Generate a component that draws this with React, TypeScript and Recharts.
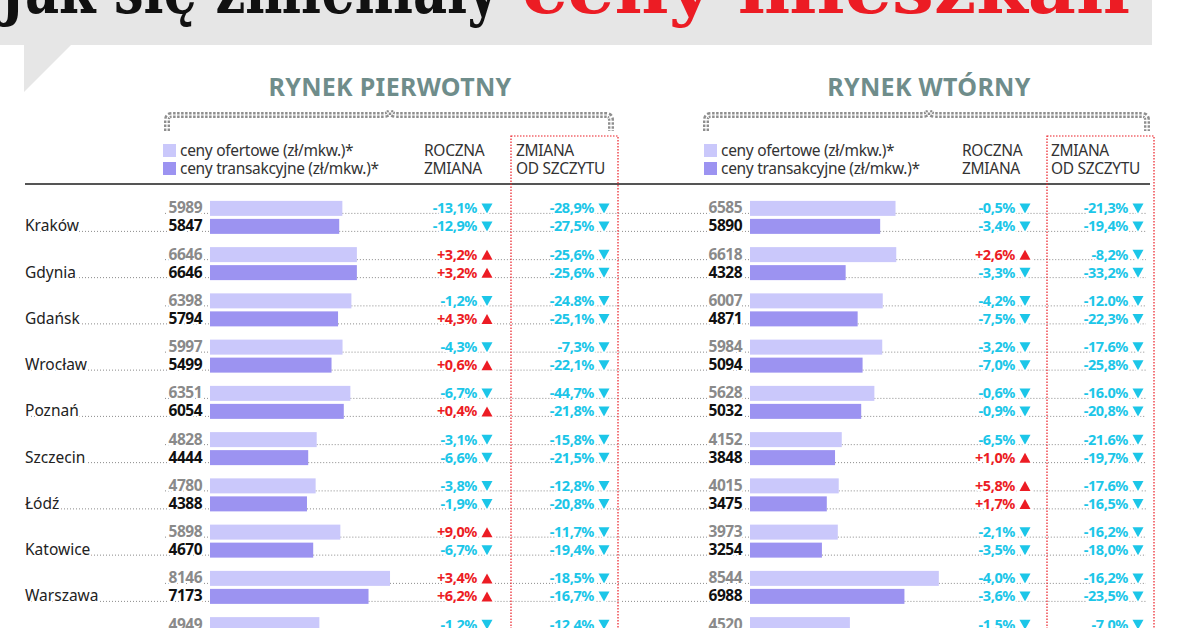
import { BarChart, Bar, XAxis, YAxis } from "recharts";

// rows top to bottom; the last row is cut by the bottom edge of the picture
const cities = ["Kraków", "Gdynia", "Gdańsk", "Wrocław", "Poznań", "Szczecin", "Łódź", "Katowice", "Warszawa", ""];

// rynek pierwotny
const pOffer = [5989, 6646, 6398, 5997, 6351, 4828, 4780, 5898, 8146, 4949];
const pTrans = [5847, 6646, 5794, 5499, 6054, 4444, 4388, 4670, 7173, null];
const pOfferYoY = ["-13,1%", "+3,2%", "-1,2%", "-4,3%", "-6,7%", "-3,1%", "-3,8%", "+9,0%", "+3,4%", "-1,2%"];
const pTransYoY = ["-12,9%", "+3,2%", "+4,3%", "+0,6%", "+0,4%", "-6,6%", "-1,9%", "-6,7%", "+6,2%", null];
const pOfferPeak = ["-28,9%", "-25,6%", "-24.8%", "-7,3%", "-44,7%", "-15,8%", "-12,8%", "-11,7%", "-18,5%", "-12,4%"];
const pTransPeak = ["-27,5%", "-25,6%", "-25,1%", "-22,1%", "-21,8%", "-21,5%", "-20,8%", "-19,4%", "-16,7%", null];

// rynek wtórny
const sOffer = [6585, 6618, 6007, 5984, 5628, 4152, 4015, 3973, 8544, 4520];
const sTrans = [5890, 4328, 4871, 5094, 5032, 3848, 3475, 3254, 6988, null];
const sOfferYoY = ["-0,5%", "+2,6%", "-4,2%", "-3,2%", "-0,6%", "-6,5%", "+5,8%", "-2,1%", "-4,0%", "-1,5%"];
const sTransYoY = ["-3,4%", "-3,3%", "-7,5%", "-7,0%", "-0,9%", "+1,0%", "+1,7%", "-3,5%", "-3,6%", null];
const sOfferPeak = ["-21,3%", "-8,2%", "-12.0%", "-17.6%", "-16.0%", "-21.6%", "-17.6%", "-16,2%", "-16,2%", "-7,0%"];
const sTransPeak = ["-19,4%", "-33,2%", "-22,3%", "-25,8%", "-20,8%", "-19,7%", "-16,5%", "-18,0%", "-23,5%", null];

const OFFER = "#cac8fb";
const TRANS = "#9c93f1";
const CYAN = "#1cc6e8";
const RED = "#ec1c24";
const LEADER = "#8a8a8a";
const HEAD = "#6f8d8b";
const SANS = "'Noto Sans', sans-serif";

type Panel = {
  numX: number;
  yoyX: number;
  peakX: number;
  offerFrom: number;
  transFrom: number;
  leadTo: number;
  showCity: boolean;
};

const leftPanel: Panel = { numX: 202, yoyX: 477, peakX: 594, offerFrom: 165, transFrom: 28, leadTo: 620, showCity: true };
const rightPanel: Panel = { numX: 122, yoyX: 395, peakX: 508, offerFrom: 2, transFrom: 2, leadTo: 526, showCity: false };

const halo = { stroke: "#fff", strokeWidth: 4, paintOrder: "stroke" as const, strokeLinejoin: "round" as const };

function Pct({ x, cy, text }: { x: number; cy: number; text: string | null }) {
  if (!text) return null;
  const up = text.startsWith("+");
  const color = up ? RED : CYAN;
  const tx = x + 10;
  const pts = up
    ? `${tx - 5.5},${cy + 5} ${tx + 5.5},${cy + 5} ${tx},${cy - 5}`
    : `${tx - 5.5},${cy - 5} ${tx + 5.5},${cy - 5} ${tx},${cy + 5}`;
  return (
    <g>
      <text x={x} y={cy + 5} textAnchor="end" fontFamily={SANS} fontSize={14.5} fontWeight={700} fill={color} letterSpacing={-0.4} {...halo}>
        {text}
      </text>
      <polygon points={pts} fill={color} stroke="#fff" strokeWidth={4} paintOrder="stroke" />
    </g>
  );
}

function makeShape(panel: Panel, kind: "offer" | "trans", nums: (number | null)[], yoy: (string | null)[], peak: (string | null)[]) {
  return (props: any) => {
    const { x, y, width, height, index } = props;
    const v = nums[index];
    if (v == null) return <g />;
    const cy = y + height / 2;
    const base = cy + 5;
    const from = kind === "offer" ? panel.offerFrom : panel.transFrom;
    return (
      <g>
        <line x1={from} x2={x} y1={base} y2={base} stroke={LEADER} strokeWidth={1} strokeDasharray="1 2" />
        <line x1={x + width} x2={panel.leadTo} y1={base} y2={base} stroke={LEADER} strokeWidth={1} strokeDasharray="1 2" />
        <rect x={x} y={y} width={width} height={height} fill={kind === "offer" ? OFFER : TRANS} />
        {kind === "trans" && panel.showCity && (
          <text x={25} y={base} fontFamily={SANS} fontSize={15.5} fill="#222" {...halo}>
            {cities[index]}
          </text>
        )}
        <text
          x={panel.numX}
          y={base}
          textAnchor="end"
          fontFamily={SANS}
          fontSize={15.5}
          fontWeight={700}
          letterSpacing={-0.5}
          fill={kind === "offer" ? "#8a8a8a" : "#111"}
          {...halo}
        >
          {v}
        </text>
        <Pct x={panel.yoyX} cy={cy} text={yoy[index]} />
        <Pct x={panel.peakX} cy={cy} text={peak[index]} />
      </g>
    );
  };
}

const primaryRows = cities.map((city, i) => ({ city, offer: pOffer[i], trans: pTrans[i] }));
const secondaryRows = cities.map((city, i) => ({ city, offer: sOffer[i], trans: sTrans[i] }));

function PanelChart({ rows, panel, width, left, offer, trans }: any) {
  return (
    <div style={{ position: "absolute", left, top: 0 }}>
      <BarChart
        width={width}
        height={680}
        data={rows}
        layout="vertical"
        barSize={15}
        barGap={3}
        margin={{ top: 193.875, right: width - panel.barLeft - 221, bottom: 23.625, left: panel.barLeft }}
      >
        <XAxis type="number" domain={[0, 10000]} hide />
        <YAxis type="category" dataKey="city" hide allowDuplicatedCategory />
        <Bar dataKey="offer" isAnimationActive={false} shape={makeShape(panel, "offer", offer.nums, offer.yoy, offer.peak)} />
        <Bar dataKey="trans" isAnimationActive={false} shape={makeShape(panel, "trans", trans.nums, trans.yoy, trans.peak)} />
      </BarChart>
    </div>
  );
}

function Header({ x0, title, titleX, roczX, zmX, bracket }: any) {
  const [a, m, b] = bracket;
  const d = `M${a},131 L${a},120 Q${a},115 ${a + 5},115 L${m - 6},115 Q${m - 1},115 ${m},110 Q${m + 1},115 ${m + 6},115 L${b - 5},115 Q${b},115 ${b},120 L${b},131`;
  return (
    <g fontFamily={SANS}>
      <text x={titleX} y={96} textAnchor="middle" fontSize={25} fontWeight={700} fill={HEAD} letterSpacing={0.3}>
        {title}
      </text>
      <path d={d} fill="none" stroke="#8e8e8e" strokeWidth={6} strokeDasharray="2.5 1.5" />
      <path d={d} fill="none" stroke="#fff" strokeWidth={1.2} />
      <rect x={x0} y={144} width={13} height={13} fill={OFFER} />
      <rect x={x0} y={162} width={13} height={13} fill={TRANS} />
      <text x={x0 + 17} y={156} fontSize={15.5} fill="#333" letterSpacing={-0.3}>ceny ofertowe (zł/mkw.)*</text>
      <text x={x0 + 17} y={174} fontSize={15.5} fill="#333" letterSpacing={-0.3}>ceny transakcyjne (zł/mkw.)*</text>
      <text x={roczX} y={156} fontSize={15.5} fill="#333" letterSpacing={-0.3}>ROCZNA</text>
      <text x={roczX} y={174} fontSize={15.5} fill="#333" letterSpacing={-0.3}>ZMIANA</text>
      <text x={zmX} y={156} fontSize={15.5} fill="#333" letterSpacing={-0.3}>ZMIANA</text>
      <text x={zmX} y={174} fontSize={15.5} fill="#333" letterSpacing={-0.3}>OD SZCZYTU</text>
    </g>
  );
}

export default function App() {
  return (
    <div style={{ position: "fixed", left: 0, top: 0, width: 1200, height: 628, overflow: "hidden", background: "#fff" }}>
      <svg width={1200} height={628} style={{ position: "absolute", left: 0, top: 0 }}>
        <rect x={0} y={0} width={1152} height={45} fill="#e6e6e6" />
        <polygon points="24,44 72,44 24,92" fill="#e6e6e6" />
        <text x={0} y={13} fontFamily="'DejaVu Serif', serif" fontWeight={700} fontSize={70} fill="#111" textLength={498} lengthAdjust="spacingAndGlyphs">
          Jak się zmieniały
        </text>
        <text x={522} y={13} fontFamily="'DejaVu Serif', serif" fontWeight={700} fontSize={70} fill={RED} textLength={608} lengthAdjust="spacingAndGlyphs">
          ceny mieszkań
        </text>
        <Header x0={163} title="RYNEK PIERWOTNY" titleX={390} roczX={424} zmX={516} bracket={[167, 390, 611]} />
        <Header x0={704} title="RYNEK WTÓRNY" titleX={929} roczX={962} zmX={1051} bracket={[706, 929, 1147]} />
        <line x1={25} x2={1150} y1={184} y2={184} stroke="#555" strokeWidth={2} />
      </svg>
      <PanelChart
        rows={primaryRows}
        panel={{ ...leftPanel, barLeft: 210 }}
        width={620}
        left={0}
        offer={{ nums: pOffer, yoy: pOfferYoY, peak: pOfferPeak }}
        trans={{ nums: pTrans, yoy: pTransYoY, peak: pTransPeak }}
      />
      <PanelChart
        rows={secondaryRows}
        panel={{ ...rightPanel, barLeft: 130 }}
        width={580}
        left={620}
        offer={{ nums: sOffer, yoy: sOfferYoY, peak: sOfferPeak }}
        trans={{ nums: sTrans, yoy: sTransYoY, peak: sTransPeak }}
      />
      <svg width={1200} height={628} style={{ position: "absolute", left: 0, top: 0, pointerEvents: "none" }}>
        <rect x={511} y={136} width={107} height={540} fill="none" stroke={RED} strokeWidth={1.2} strokeDasharray="1.5 1.5" />
        <rect x={1047} y={136} width={107} height={540} fill="none" stroke={RED} strokeWidth={1.2} strokeDasharray="1.5 1.5" />
      </svg>
    </div>
  );
}
